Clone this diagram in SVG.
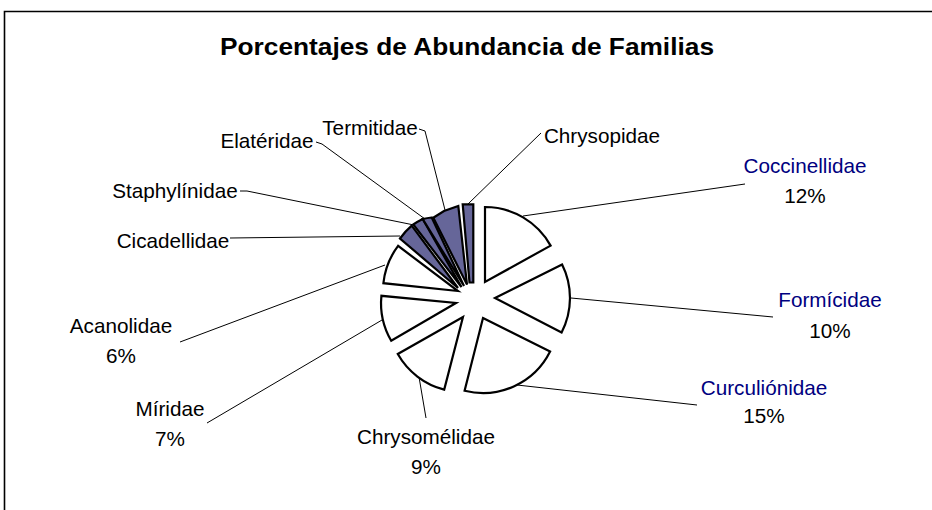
<svg xmlns="http://www.w3.org/2000/svg" width="932" height="510" viewBox="0 0 932 510">
<style>
.lbl{font-family:"Liberation Sans",Arial,sans-serif;font-size:20.7px;fill:#000;text-anchor:middle}
.blue{fill:#000080}
.title{font-family:"Liberation Sans",Arial,sans-serif;font-size:23.5px;font-weight:bold;fill:#000}
.sl{fill:#fff;stroke:#000;stroke-width:2.2;stroke-linejoin:miter}
.sb{fill:#666699;stroke:#000;stroke-width:2.2;stroke-linejoin:miter}
.ln{fill:none;stroke:#000;stroke-width:1}
</style>
<rect x="0" y="0" width="932" height="510" fill="#fff"/>
<path d="M4.5,510 V11.5 H932" fill="none" stroke="#000" stroke-width="1.6"/>
<text class="title" x="220" y="55" textLength="494" lengthAdjust="spacingAndGlyphs">Porcentajes de Abundancia de Familias</text>
<g id="connectors">
<path class="ln" d="M523,216 L745,184"/>
<path class="ln" d="M571,298 L773,317"/>
<path class="ln" d="M517,385 L697,405"/>
<path class="ln" d="M419,377 L426,418"/>
<path class="ln" d="M382,320 L207,423"/>
<path class="ln" d="M385,265 L180,342"/>
<path class="ln" d="M230,238 L400,236"/>
<path class="ln" d="M240,191 L247,191 L414,225"/>
<path class="ln" d="M316,142 L322,144 L425,219"/>
<path class="ln" d="M419,129 L425,131 L445,210"/>
<path class="ln" d="M541,133 L468,204"/>
</g>
<g id="slice-coccinellidae"><path class="sl" d="M485,282 L485,207 A75,75 0 0 1 550.6,245.6 Z"/></g>
<g id="slice-formicidae"><path class="sl" d="M495,298 L562.1,264.5 A75,75 0 0 1 561.6,332.4 Z"/></g>
<g id="slice-curculionidae"><path class="sl" d="M483,318 L550.1,351.5 A75,75 0 0 1 464.6,390.7 Z"/></g>
<g id="slice-chrysomelidae"><path class="sl" d="M463,317 L444.2,389.6 A75,75 0 0 1 397.8,354 Z"/></g>
<g id="slice-miridae"><path class="sl" d="M456,303 L391.2,340.7 A75,75 0 0 1 381.4,295.8 Z"/></g>
<g id="slice-acanolidae"><path class="sl" d="M458,291 L383.4,283.2 A75,75 0 0 1 398.1,245.9 Z"/></g>
<g id="slice-cicadellidae"><path class="sb" d="M458,288 L400,238.5 A76,76 0 0 1 411.7,225.7 Z"/></g>
<g id="slice-staphylinidae"><path class="sb" d="M461.5,287 L413.3,224.5 A78,78 0 0 1 422.7,219 Z"/></g>
<g id="slice-elateridae"><path class="sb" d="M464,286 L422.7,219 A78,78 0 0 1 431.7,217.5 Z"/></g>
<g id="slice-termitidae"><path class="sb" d="M467,284.5 L433.3,217.7 L444,211 L458.3,206 Z"/></g>
<g id="slice-chrysopidae"><path class="sb" d="M469.5,282.5 L462.7,204.3 L473.3,204.3 L473.3,282.5 Z"/></g>
<g id="label-coccinellidae"><text class="lbl blue" x="805" y="173">Coccinellidae</text><text class="lbl" x="805" y="203">12%</text></g>
<g id="label-formicidae"><text class="lbl blue" x="830" y="307">Formícidae</text><text class="lbl" x="830" y="338">10%</text></g>
<g id="label-curculionidae"><text class="lbl blue" x="764" y="395">Curculiónidae</text><text class="lbl" x="764" y="423">15%</text></g>
<g id="label-chrysomelidae"><text class="lbl" x="426" y="444">Chrysomélidae</text><text class="lbl" x="426" y="474">9%</text></g>
<g id="label-miridae"><text class="lbl" x="170" y="416">Míridae</text><text class="lbl" x="170" y="446">7%</text></g>
<g id="label-acanolidae"><text class="lbl" x="121" y="333">Acanolidae</text><text class="lbl" x="121" y="363">6%</text></g>
<g id="label-cicadellidae"><text class="lbl" x="173" y="248">Cicadellidae</text></g>
<g id="label-staphylinidae"><text class="lbl" x="175" y="198">Staphylínidae</text></g>
<g id="label-elateridae"><text class="lbl" x="267" y="148">Elatéridae</text></g>
<g id="label-termitidae"><text class="lbl" x="370" y="135">Termitidae</text></g>
<g id="label-chrysopidae"><text class="lbl" x="602" y="143">Chrysopidae</text></g>
</svg>
